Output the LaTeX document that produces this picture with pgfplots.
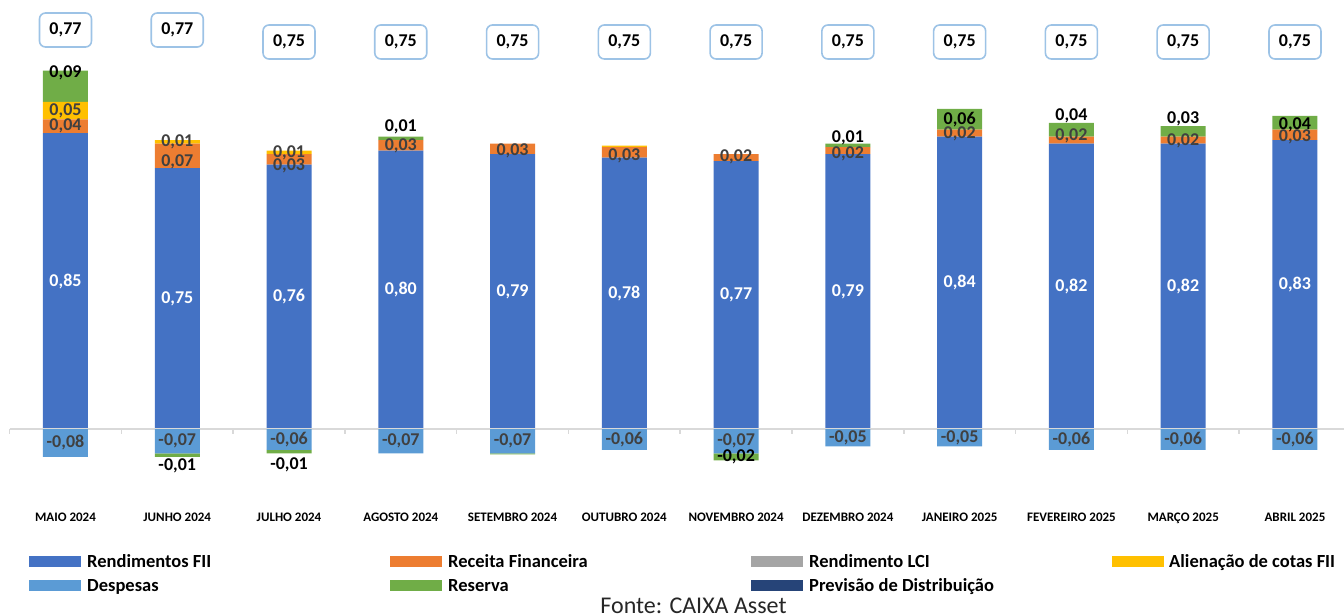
\documentclass[border=0pt]{standalone}
\usepackage{fontspec}
\setmainfont{Carlito}
\usepackage{pgfplots}
\pgfplotsset{compat=1.18}

\definecolor{cRend}{HTML}{4472C4}
\definecolor{cRec}{HTML}{ED7D31}
\definecolor{cLCI}{HTML}{A5A5A5}
\definecolor{cAlien}{HTML}{FFC000}
\definecolor{cDesp}{HTML}{5B9BD5}
\definecolor{cRes}{HTML}{70AD47}
\definecolor{cPrev}{HTML}{264478}
\definecolor{cBox}{HTML}{9DC3E6}
\definecolor{cZero}{HTML}{D9D9D9}
\definecolor{cLab}{HTML}{404040}

\pgfplotsset{
  base/.style={
    x=111.77pt, y=348pt,
    xmin=-0.5, xmax=11.5, ymin=-0.2155, ymax=1.2328,
    enlargelimits=false,
    at={(9.6pt,110pt)}, anchor=south west,
    axis line style={draw=none},
    tick style={draw=none},
    xtick=\empty, ytick=\empty,
    clip=false,
    /pgf/number format/fixed,
    /pgf/number format/fixed zerofill,
    /pgf/number format/precision=2,
    /pgf/number format/use comma,
    /pgf/number format/assume math mode=true,
  },
  % segment label, dy moves it (pt, up)
  lab/.style={
    visualization depends on={value \thisrow{y} \as \rawy},
    visualization depends on={value \thisrow{dy} \as \dy},
    nodes near coords={\pgfmathtruncatemacro\showlab{abs(\rawy)>=0.005}\ifnum\showlab=1 \pgfmathprintnumber{\rawy}\fi},
    nodes near coords style={anchor=center, inner sep=0pt,
      yshift={\dy},
      font=\fontsize{18}{20}\selectfont\bfseries, text=#1},
  },
}

\begin{document}
\begin{tikzpicture}
\useasboundingbox (0,0) rectangle (1344pt,614pt);

% positive parts
\begin{axis}[base, ybar stacked, bar width=45pt,
  xtick={0,...,11},
  xticklabels={MAIO 2024, JUNHO 2024, JULHO 2024, AGOSTO 2024, SETEMBRO 2024, OUTUBRO 2024, NOVEMBRO 2024, DEZEMBRO 2024, JANEIRO 2025, FEVEREIRO 2025, MARÇO 2025, ABRIL 2025},
  xticklabel style={font=\fontsize{13}{15}\selectfont\bfseries, anchor=base, yshift=-17pt},
]
\addplot[fill=cRend, draw=none, lab=white] table[row sep=\\] {
x y dy\\
0 0.85 0\\ 1 0.75 0\\ 2 0.76 0\\ 3 0.80 0\\ 4 0.79 0\\ 5 0.78 0\\
6 0.77 0\\ 7 0.79 0\\ 8 0.84 0\\ 9 0.82 0\\ 10 0.82 0\\ 11 0.83 0\\
};
\addplot[fill=cRec, draw=none, lab=cLab] table[row sep=\\] {
x y dy\\
0 0.04 0\\ 1 0.07 -6\\ 2 0.03 -7\\ 3 0.03 0\\ 4 0.03 -2\\ 5 0.03 -3\\
6 0.02 1\\ 7 0.02 -3\\ 8 0.02 -1\\ 9 0.02 4\\ 10 0.02 -1\\ 11 0.03 -2\\
};
\addplot[fill=cLCI, draw=none, lab=cLab] table[row sep=\\] {
x y dy\\
0 0 0\\ 1 0 0\\ 2 0 0\\ 3 0 0\\ 4 0 0\\ 5 0 0\\
6 0 0\\ 7 0 0\\ 8 0 0\\ 9 0 0\\ 10 0 0\\ 11 0 0\\
};
\addplot[fill=cAlien, draw=none, lab=cLab] table[row sep=\\] {
x y dy\\
0 0.05 0\\ 1 0.01 0\\ 2 0.01 0\\ 3 0 0\\ 4 0 0\\ 5 0.004 0\\
6 0 0\\ 7 0 0\\ 8 0 0\\ 9 0 0\\ 10 0 0\\ 11 0 0\\
};
\addplot[fill=cRes, draw=none, lab=black] table[row sep=\\] {
x y dy\\
0 0.09 13\\ 1 0 0\\ 2 0 0\\ 3 0.01 12\\ 4 0 0\\ 5 0 0\\
6 0 0\\ 7 0.01 8\\ 8 0.06 0\\ 9 0.04 14\\ 10 0.03 13\\ 11 0.04 -2\\
};
\end{axis}

% negative parts
\begin{axis}[base, ybar stacked, bar width=45pt]
\addplot[fill=cDesp, draw=none, lab=cLab] table[row sep=\\] {
x y dy\\
0 -0.08 0\\ 1 -0.07 0\\ 2 -0.06 0\\ 3 -0.07 0\\ 4 -0.07 0\\ 5 -0.06 0\\
6 -0.07 0\\ 7 -0.05 0\\ 8 -0.05 0\\ 9 -0.06 0\\ 10 -0.06 0\\ 11 -0.06 0\\
};
\addplot[fill=cRes, draw=none, lab=black] table[row sep=\\] {
x y dy\\
0 0 0\\ 1 -0.01 -11\\ 2 -0.01 -13\\ 3 0 0\\ 4 -0.003 0\\ 5 0 0\\
6 -0.02 0\\ 7 0 0\\ 8 0 0\\ 9 0 0\\ 10 0 0\\ 11 0 0\\
};
\draw[cZero, line width=2pt] (axis cs:-0.5,0) -- (axis cs:11.5,0);
\pgfplotsinvokeforeach{0,...,12}{
  \draw[cZero, line width=1.5pt] (axis cs:#1-0.5,0) -- ++(0pt,-5pt);
}
\end{axis}

% Previsão de Distribuição
\begin{axis}[base, ymin=-0.02, ymax=0.82, y=600pt]
\addplot[draw=none, mark=none, nodes near coords,
  nodes near coords style={anchor=center, draw=cBox, fill=white,
    line width=1.6pt, rounded corners=6pt, inner sep=0pt,
    minimum width=52pt, minimum height=34pt,
    font=\fontsize{18}{20}\selectfont\bfseries, text=black}]
coordinates {(0,0.77) (1,0.77) (2,0.75) (3,0.75) (4,0.75) (5,0.75)
  (6,0.75) (7,0.75) (8,0.75) (9,0.75) (10,0.75) (11,0.75)};
\end{axis}

% legend
\begin{scope}[every node/.style={anchor=base west, inner sep=0pt,
    font=\fontsize{18.5}{20}\selectfont\bfseries}]
\fill[cRend]  (29pt,47pt) rectangle ++(52pt,11pt);
\node at (87pt,47pt) {Rendimentos FII};
\fill[cRec]   (390pt,47pt) rectangle ++(52pt,11pt);
\node at (448pt,47pt) {Receita Financeira};
\fill[cLCI]   (751pt,47pt) rectangle ++(52pt,11pt);
\node at (809pt,47pt) {Rendimento LCI};
\fill[cAlien] (1112pt,47pt) rectangle ++(52pt,11pt);
\node at (1169pt,47pt) {Alienação de cotas FII};
\fill[cDesp]  (29pt,23pt) rectangle ++(52pt,11pt);
\node at (87pt,23pt) {Despesas};
\fill[cRes]   (390pt,23pt) rectangle ++(52pt,11pt);
\node at (448pt,23pt) {Reserva};
\fill[cPrev]  (751pt,23pt) rectangle ++(52pt,11pt);
\node at (809pt,23pt) {Previsão de Distribuição};
\end{scope}
\node[anchor=base, inner sep=0pt, font=\fontsize{24}{26}\selectfont, text=black!85]
  at (693.5pt,1pt) {Fonte: CAIXA Asset};
\end{tikzpicture}
\end{document}
